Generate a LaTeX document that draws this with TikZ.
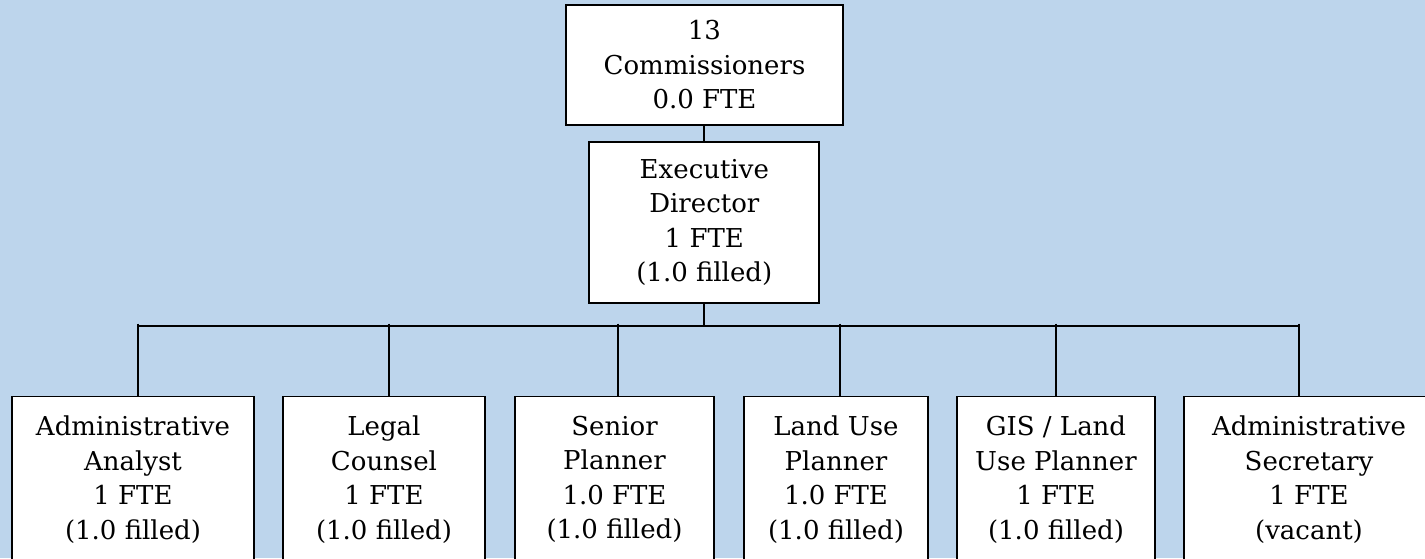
\documentclass[tikz,border=0pt]{standalone}
\usepackage{fontspec}
\setmainfont{DejaVu Serif}
\definecolor{bg}{HTML}{BDD5EC}
\begin{document}
\begin{tikzpicture}[x=1pt,y=-1pt,
  box/.style={draw=black, fill=white, line width=1.8pt, align=center, inner sep=0pt,
              font=\fontsize{26}{34.5}\selectfont},
  lowbox/.style={box, minimum height=166pt},
  conn/.style={line width=1.9pt}]
\fill[bg] (0,0) rectangle (1425,558);
\useasboundingbox (0,0) rectangle (1425,558);
\clip (0,0) rectangle (1425,558);
% top boxes
\node[box, minimum width=277pt, minimum height=120pt] (comm) at (704.5,65) {13\\Commissioners\\0.0 FTE};
\node[box, minimum width=230pt, minimum height=161pt] (exec) at (704.3,222.5) {Executive\\Director\\1 FTE\\(1.0 filled)};
% bottom boxes
\node[lowbox, minimum width=242pt] (aa)  at (133,479.5)  {Administrative\\Analyst\\1 FTE\\(1.0 filled)};
\node[lowbox, minimum width=202pt] (lc)  at (384,479.5)  {Legal\\Counsel\\1 FTE\\(1.0 filled)};
\node[lowbox, minimum width=199pt] (sp)  at (614.5,479.5) {Senior\\Planner\\1.0 FTE\\(1.0 filled)};
\node[lowbox, minimum width=184pt] (lu)  at (836,479.5)  {Land Use\\Planner\\1.0 FTE\\(1.0 filled)};
\node[lowbox, minimum width=198pt] (gis) at (1056,479.5) {GIS / Land\\Use Planner\\1 FTE\\(1.0 filled)};
\node[lowbox, minimum width=250pt] (as)  at (1309,479.5) {Administrative\\Secretary\\1 FTE\\(vacant)};
% connectors
\coordinate (busL) at (138.3,325.7);
\coordinate (busR) at (1299,325.7);
\draw[conn] (exec.north |- comm.south) -- (exec.north);
\draw[conn] (exec.south) -- (exec.south |- busL);
\draw[conn] (busL) -- (busR);
\coordinate (d1) at (138.3,323.5);
\coordinate (d2) at (389,323.5);
\coordinate (d3) at (618,323.5);
\coordinate (d4) at (840,323.5);
\coordinate (d5) at (1056,323.5);
\coordinate (d6) at (1299,323.5);
\draw[conn] (d1) -- (d1 |- aa.north);
\draw[conn] (d2) -- (d2 |- lc.north);
\draw[conn] (d3) -- (d3 |- sp.north);
\draw[conn] (d4) -- (d4 |- lu.north);
\draw[conn] (d5) -- (d5 |- gis.north);
\draw[conn] (d6) -- (d6 |- as.north);
\end{tikzpicture}
\end{document}
